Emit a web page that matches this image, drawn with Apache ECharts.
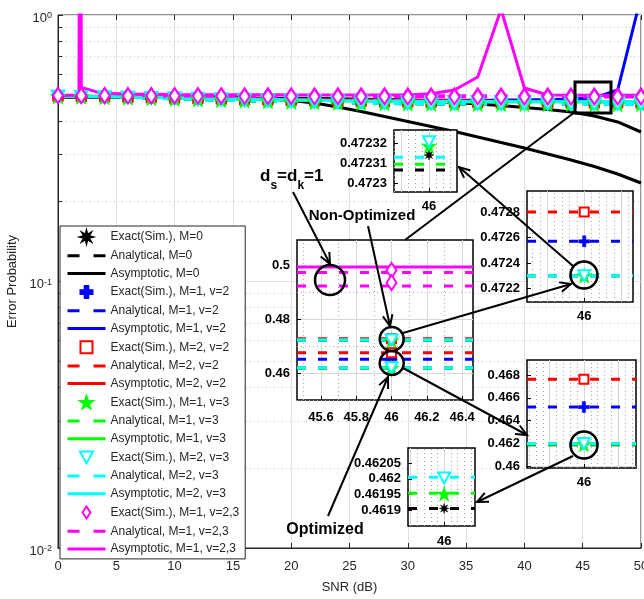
<!DOCTYPE html>
<html>
<head>
<meta charset="utf-8">
<script src="https://cdn.jsdelivr.net/npm/echarts@6/dist/echarts.min.js"></script>
<style>
html,body{margin:0;padding:0;background:#fff}
#chart{width:644px;height:599px}
</style>
</head>
<body>
<div id="chart"></div>
<script>
const FONT = '"Liberation Sans", Arial, Helvetica, sans-serif';

// ---- SNR grid (dB) of the simulated / analytical curves ----
const snr = [0,2,4,6,8,10,12,14,16,18,20,22,24,26,28,30,32,34,36,38,40,42,44,46,48,50];

// Error probability, non-optimized (NO) and optimized (OP) parameter sets
const m0NO   = [0.4962,0.4951,0.4938,0.4923,0.4906,0.4888,0.4869,0.4850,0.4831,0.4813,0.4797,0.4782,0.4769,0.4758,0.4749,0.4742,0.4736,0.4731,0.4728,0.4726,0.47247,0.47239,0.47235,0.47233,0.47231,0.4723];
const m0OP   = [0.4955,0.4938,0.4918,0.4896,0.4871,0.4845,0.4818,0.4791,0.4765,0.4741,0.4719,0.4699,0.4682,0.4668,0.4656,0.4646,0.4638,0.4632,0.4627,0.4624,0.4622,0.46205,0.46196,0.4619,0.46188,0.46186];
const m1v2NO = [0.4966,0.4955,0.4943,0.4929,0.4913,0.4896,0.4878,0.4860,0.4843,0.4826,0.4811,0.4797,0.4785,0.4775,0.4766,0.4759,0.4753,0.4747,0.4742,0.4737,0.4733,0.4730,0.4728,0.47257,0.4724,0.4723];
const m1v2OP = [0.4960,0.4945,0.4927,0.4907,0.4885,0.4862,0.4838,0.4815,0.4793,0.4773,0.4755,0.4739,0.4725,0.4713,0.4703,0.4694,0.4686,0.4679,0.4672,0.4666,0.4661,0.4657,0.4655,0.4654,0.4653,0.4652];
const m2v2NO = [0.4970,0.4960,0.4949,0.4936,0.4921,0.4905,0.4889,0.4873,0.4857,0.4842,0.4828,0.4815,0.4803,0.4793,0.4784,0.4776,0.4769,0.4762,0.4756,0.4750,0.4744,0.4738,0.4733,0.4728,0.4724,0.4721];
const m2v2OP = [0.4964,0.4950,0.4934,0.4916,0.4896,0.4875,0.4853,0.4831,0.4810,0.4791,0.4774,0.4759,0.4746,0.4735,0.4725,0.4716,0.4708,0.4701,0.4695,0.4689,0.4684,0.4680,0.4678,0.4676,0.4674,0.4672];
const m1v3NO = [0.4961,0.4950,0.4937,0.4922,0.4905,0.4887,0.4868,0.4849,0.4830,0.4812,0.4796,0.4781,0.4768,0.4757,0.4748,0.4741,0.4735,0.4731,0.4728,0.4726,0.47248,0.4724,0.47235,0.47231,0.4723,0.4723];
const m1v3OP = [0.4954,0.4937,0.4917,0.4895,0.4870,0.4844,0.4817,0.4790,0.4764,0.4740,0.4718,0.4698,0.4681,0.4667,0.4655,0.4645,0.4637,0.4631,0.4627,0.4624,0.46222,0.4621,0.46201,0.46195,0.46192,0.4619];
const m2v3NO = [0.4963,0.4952,0.4939,0.4924,0.4907,0.4889,0.4870,0.4851,0.4832,0.4814,0.4798,0.4783,0.4770,0.4759,0.4750,0.4742,0.4736,0.4732,0.4729,0.4727,0.4725,0.4724,0.47236,0.47232,0.4723,0.4723];
const m2v3OP = [0.4956,0.4939,0.4919,0.4897,0.4872,0.4846,0.4819,0.4792,0.4766,0.4742,0.4720,0.4700,0.4683,0.4669,0.4657,0.4647,0.4639,0.4633,0.4628,0.4625,0.4623,0.46212,0.46205,0.462,0.46198,0.46196];
const m1v23NO = [0.4990,0.4989,0.4988,0.4987,0.4986,0.4985,0.4984,0.4983,0.4982,0.4981,0.4980,0.4979,0.4979,0.4978,0.4978,0.4977,0.4977,0.4976,0.4976,0.4976,0.4975,0.4975,0.4975,0.4975,0.4975,0.4975];
const m1v23OP = [0.4985,0.4982,0.4979,0.4975,0.4971,0.4967,0.4962,0.4958,0.4954,0.4950,0.4946,0.4943,0.4940,0.4937,0.4935,0.4933,0.4931,0.4930,0.4929,0.4928,0.4927,0.4926,0.4926,0.4925,0.4925,0.4925];

// Asymptotic curves
const asymM0a  = [0.4925,0.4925,0.4920,0.4915,0.4910,0.4903,0.4897,0.4890,0.4883,0.4875,0.4866,0.4856,0.4845,0.4832,0.4819,0.4799,0.4757,0.4696,0.4635,0.4576,0.4497,0.4420,0.4326,0.4178,0.3968,0.3639];
const asymM0b  = [0.4925,0.4923,0.4920,0.4916,0.4911,0.4904,0.4895,0.4884,0.4866,0.4840,0.4777,0.4675,0.4516,0.4345,0.4160,0.3985,0.3817,0.3655,0.3484,0.3323,0.3170,0.3009,0.2858,0.2701,0.2532,0.2342];
const asymM1v2 = [0.4966,0.4957,0.4946,0.4934,0.4921,0.4907,0.4892,0.4877,0.4862,0.4848,0.4835,0.4823,0.4812,0.4803,0.4796,0.4791,0.4788,0.4787,0.4789,0.4794,0.4803,0.4818,0.4842,0.4880,0.523,1.17];
const asymM1v23Snr = [0,1.8,1.9,2.0,3.6,6,10,14,18,22,26,30,32,34,36,38,40,42,46,50];
const asymM1v23    = [0.500,0.500,60,0.535,0.510,0.505,0.503,0.502,0.502,0.501,0.501,0.501,0.506,0.523,0.585,1.05,0.532,0.501,0.4995,0.4995];

// ---- Zoomed views around SNR = 46 dB ----
const zoomSnr = 46;
// order: M=0, M=1 v=2, M=2 v=2, M=1 v=3, M=2 v=3
const bigNO = [0.4723, 0.47257, 0.4728, 0.47231, 0.47232];
const bigOP = [0.4619, 0.4652, 0.4676, 0.46195, 0.462];
const bigDsLines = [0.4975, 0.4925];   // analytical, M=1 v=2,3 (d_s=d_k=1)
const bigDsSim   = [0.4983, 0.4937];   // exact, M=1 v=2,3
const bigDsAsym  = [0.4995];
const midNO = [0.4723, 0.47257, 0.4728, 0.4723, 0.4723];
const lowOP = [0.4619, 0.4652, 0.46763, 0.46195, 0.462];
// order: M=0, M=1 v=3, M=2 v=3
const topLines = [0.4723067, 0.4723096, 0.472313];
const topSim   = [0.4723141, 0.4723186, 0.4723207];
const botLines = [0.461905, 0.461954, 0.462005];
const botSim   = [0.461905, 0.461952, 0.462003];

// tick labels of the zoomed views
const bigXTicks = [45.6, 45.8, 46, 46.2, 46.4];
const bigYTicks = [0.46, 0.48, 0.5];
const topYTicks = [0.4723, 0.47231, 0.47232];
const midYTicks = [0.4722, 0.4724, 0.4726, 0.4728];
const lowYTicks = [0.46, 0.462, 0.464, 0.466, 0.468];
const botYTicks = [0.4619, 0.46195, 0.462, 0.46205];
const smallXTicks = [46];

// main axis minor grid values (log decades)
const mainMinorY = [0.02,0.03,0.04,0.05,0.06,0.07,0.08,0.09,0.2,0.3,0.4,0.5,0.6,0.7,0.8,0.9];

// ---- marker shapes ----
function starPath(n, rOut, rIn) {
  const pts = [];
  for (let k = 0; k < 2 * n; k++) {
    const r = k % 2 ? rIn : rOut;
    const a = -Math.PI / 2 + k * Math.PI / n;
    pts.push((r * Math.cos(a)).toFixed(2) + ',' + (r * Math.sin(a)).toFixed(2));
  }
  return 'path://M' + pts.join('L') + 'Z';
}
const SYM_STAR = starPath(5, 10, 3.9);
const SYM_AST = starPath(8, 10, 4.2);
const SYM_PLUS = 'path://M3.5,0H6.5V3.5H10V6.5H6.5V10H3.5V6.5H0V3.5H3.5Z';
const SYM_SQUARE = 'emptyPath://M0,0H10V10H0Z';
const SYM_TRI_DOWN = 'emptyPath://M0,0H12L6,11Z';
const SYM_DIAMOND = 'emptyPath://M5,0L10,7.5L5,15L0,7.5Z';

const cfg = [
  {label: 'M=0',        color: '#000000', symbol: SYM_AST,      size: 10,       bw: 0.5},
  {label: 'M=1, v=2',   color: '#0000ff', symbol: SYM_PLUS,     size: 11,       bw: 0.5},
  {label: 'M=2, v=2',   color: '#ff0000', symbol: SYM_SQUARE,   size: 9,        bw: 2},
  {label: 'M=1, v=3',   color: '#00ff00', symbol: SYM_STAR,     size: 15,       bw: 0.5},
  {label: 'M=2, v=3',   color: '#00ffff', symbol: SYM_TRI_DOWN, size: [12, 11], bw: 2},
  {label: 'M=1, v=2,3', color: '#ff00ff', symbol: SYM_DIAMOND,  size: [10, 15], bw: 2}
];
const DASH = [9, 12];
const exactName = c => 'Exact(Sim.), ' + c.label;
const anaName = c => 'Analytical, ' + c.label;
const asymName = c => 'Asymptotic, ' + c.label;

const pairs = (xs, ys) => xs.map((x, i) => [x, ys[i]]);

let uid = 0;
function lineSeries(name, grid, data, color, dashed, z) {
  return {
    id: 'l' + (uid++), type: 'line', name: name, xAxisIndex: grid, yAxisIndex: grid, data: data,
    symbol: 'none', showSymbol: false, silent: true, z: z, clip: true,
    lineStyle: {color: color, width: 3, type: dashed ? DASH : 'solid'},
    itemStyle: {color: color}, emphasis: {disabled: true}
  };
}
function markSeries(name, grid, data, c, z) {
  return {
    id: 'm' + (uid++), type: 'scatter', name: name, xAxisIndex: grid, yAxisIndex: grid, data: data,
    symbol: c.symbol, symbolSize: c.size, silent: true, z: z,
    itemStyle: {color: c.color, borderColor: c.color, borderWidth: c.bw, opacity: 1},
    emphasis: {disabled: true}
  };
}

// ---- main plot series ----
const sets = [
  [m0NO, m0OP], [m1v2NO, m1v2OP], [m2v2NO, m2v2OP],
  [m1v3NO, m1v3OP], [m2v3NO, m2v3OP], [m1v23NO, m1v23OP]
];
const asymSets = [
  [pairs(snr, asymM0a), pairs(snr, asymM0b)],
  [pairs(snr, asymM1v2)],
  [pairs(snr, m2v2NO)],
  [pairs(snr, m1v3NO)],
  [pairs(snr, m2v3NO)],
  [pairs(asymM1v23Snr, asymM1v23)]
];

const series = [];
const legendData = [];

// minor grid of the main log axis
series.push({
  type: 'line', xAxisIndex: 0, yAxisIndex: 0, data: [], silent: true,
  markLine: {
    silent: true, symbol: ['none', 'none'], label: {show: false}, animation: false, z: 1,
    emphasis: {disabled: true},
    data: mainMinorY.map(v => ({yAxis: v, lineStyle: {color: '#c4c4c4', width: 1, type: [1, 3]}}))
      .concat(mainMinorY.map(v => [
        {coord: [0, v], lineStyle: {color: '#262626', width: 1, type: 'solid'}},
        {coord: [0.35, v]}
      ]))
  }
});

const hideSymbol = {opacity: 0};
cfg.forEach((c, i) => {
  legendData.push({name: exactName(c)});
  legendData.push({name: anaName(c), lineStyle: {type: [12, 14], width: 3}, itemStyle: hideSymbol});
  legendData.push({name: asymName(c), lineStyle: {width: 3}, itemStyle: hideSymbol});
  sets[i].forEach(arr => series.push(lineSeries(anaName(c), 0, pairs(snr, arr), c.color, true, 2)));
  asymSets[i].forEach(d => series.push(lineSeries(asymName(c), 0, d, c.color, false, 2)));
  sets[i].forEach(arr => series.push(markSeries(exactName(c), 0, pairs(snr, arr), c, 3)));
});

// ---- zoomed views ----
function steps(a, b, d) {
  const out = [];
  const n = Math.round((b - a) / d);
  for (let k = 0; k <= n; k++) out.push(+(a + k * d).toFixed(9));
  return out;
}
function minus(list, major) {
  const m = major.map(v => +v.toFixed(9));
  return list.filter(v => m.indexOf(v) < 0);
}

const insets = [
  {box: [297, 240, 176, 160], x: [45.464, 46.462], y: [0.45, 0.5096], xl: bigXTicks, yl: bigYTicks,
   xMaj: bigXTicks, xMin: minus(steps(45.5, 46.4, 0.1), bigXTicks),
   yMaj: bigYTicks, yMin: minus(steps(0.45, 0.505, 0.005), bigYTicks), xm: 11},
  {box: [394, 130, 63, 62], x: [45.95, 46.04], y: [0.4722958, 0.4723265], xl: smallXTicks, yl: topYTicks,
   xMaj: [45.96, 46], xMin: minus(steps(45.95, 46.03, 0.01), [45.96, 46]),
   yMaj: topYTicks, yMin: minus(steps(0.472296, 0.472326, 0.000002), topYTicks), xm: 8},
  {box: [527, 191, 106, 111], x: [45.9226, 46.066], y: [0.472093, 0.472966], xl: smallXTicks, yl: midYTicks,
   xMaj: [45.95, 46, 46.05], xMin: minus(steps(45.93, 46.06, 0.01), [45.95, 46, 46.05]),
   yMaj: midYTicks, yMin: minus(steps(0.47212, 0.47296, 0.00004), midYTicks), xm: 8},
  {box: [527, 360, 109, 108], x: [45.917, 46.076], y: [0.45986, 0.46932], xl: smallXTicks, yl: lowYTicks,
   xMaj: [45.95, 46, 46.05], xMin: minus(steps(45.92, 46.07, 0.01), [45.95, 46, 46.05]),
   yMaj: lowYTicks, yMin: minus(steps(0.46, 0.4692, 0.0004), lowYTicks), xm: 8},
  {box: [408, 448, 67, 78], x: [45.946, 46.046], y: [0.4618486, 0.4620994], xl: smallXTicks, yl: botYTicks,
   xMaj: [45.95, 46], xMin: minus(steps(45.96, 46.04, 0.01), [46]),
   yMaj: botYTicks, yMin: minus(steps(0.46185, 0.46209, 0.00001), botYTicks), xm: 9}
];

const grids = [{
  left: 58, top: 15, right: 3, bottom: 51, show: true, borderColor: '#262626', borderWidth: 1,
  backgroundColor: 'transparent', outerBoundsMode: 'none', containLabel: false, z: 0
}];
const xAxes = [{
  type: 'value', gridIndex: 0, min: 0, max: 50, interval: 5, z: 0,
  name: 'SNR (dB)', nameLocation: 'middle', nameGap: 33,
  nameTextStyle: {fontSize: 13, fontFamily: FONT, color: '#262626'},
  axisLine: {show: true, lineStyle: {color: '#262626', width: 1}},
  axisTick: {show: true, inside: true, length: 5, lineStyle: {color: '#262626'}},
  axisLabel: {fontSize: 13, fontFamily: FONT, color: '#262626', margin: 12},
  splitLine: {show: true, lineStyle: {color: '#e2e2e2', width: 1}}
}];
const yAxes = [{
  type: 'log', logBase: 10, gridIndex: 0, min: 0.01, max: 1, z: 0,
  name: 'Error Probability', nameLocation: 'middle', nameGap: 36,
  nameTextStyle: {fontSize: 13, fontFamily: FONT, color: '#262626'},
  axisLine: {show: true, lineStyle: {color: '#262626', width: 1}},
  axisTick: {show: true, inside: true, length: 5, lineStyle: {color: '#262626'}},
  axisLabel: {
    margin: 6,
    formatter: v => '{b|10}{e|' + Math.round(Math.log10(v)) + '}',
    rich: {
      b: {fontSize: 13, fontFamily: FONT, color: '#262626', lineHeight: 13, verticalAlign: 'bottom'},
      e: {fontSize: 9, fontFamily: FONT, color: '#262626', lineHeight: 9, verticalAlign: 'top', padding: [0, 0, 10, 0]}
    },
    padding: [6, 0, 0, 0]
  },
  splitLine: {show: true, lineStyle: {color: '#e2e2e2', width: 1}}
}];

const insetLabel = {fontSize: 13, fontWeight: 'bold', fontFamily: FONT, color: '#000'};
insets.forEach((ins, k) => {
  const gi = k + 1;
  grids.push({
    left: ins.box[0], top: ins.box[1], width: ins.box[2], height: ins.box[3],
    show: true, backgroundColor: '#ffffff', borderColor: '#000', borderWidth: 1.5,
    outerBoundsMode: 'none', containLabel: false, z: 5
  });
  xAxes.push({
    type: 'value', gridIndex: gi, min: ins.x[0], max: ins.x[1], z: 7,
    axisLine: {show: false}, splitLine: {show: false},
    axisTick: {show: true, inside: true, length: 4, customValues: ins.xl, lineStyle: {color: '#000'}},
    axisLabel: Object.assign({customValues: ins.xl, margin: ins.xm}, insetLabel)
  });
  yAxes.push({
    type: 'value', gridIndex: gi, min: ins.y[0], max: ins.y[1], z: 7,
    axisLine: {show: false}, splitLine: {show: false},
    axisTick: {show: true, inside: true, length: 4, customValues: ins.yl, lineStyle: {color: '#000'}},
    axisLabel: Object.assign({customValues: ins.yl, margin: 7}, insetLabel)
  });
  const maj = {color: '#d6d6d6', width: 1, type: 'solid'};
  const mnr = {color: '#a9a9a9', width: 1, type: [1, 3]};
  series.push({
    type: 'line', xAxisIndex: gi, yAxisIndex: gi, data: [], silent: true,
    markLine: {
      silent: true, symbol: ['none', 'none'], label: {show: false}, animation: false, z: 6,
      emphasis: {disabled: true},
      data: [].concat(
        ins.xMin.map(v => ({xAxis: v, lineStyle: mnr})),
        ins.yMin.map(v => ({yAxis: v, lineStyle: mnr})),
        ins.xMaj.map(v => ({xAxis: v, lineStyle: maj})),
        ins.yMaj.map(v => ({yAxis: v, lineStyle: maj}))
      )
    }
  });
});

// tick marks along the top edge of the main plot (added last so indices above stay aligned)
xAxes.push({
  type: 'value', gridIndex: 0, min: 0, max: 50, interval: 5, position: 'top', z: 0,
  axisLine: {show: false}, axisLabel: {show: false}, splitLine: {show: false},
  axisTick: {show: true, inside: true, length: 5, lineStyle: {color: '#262626'}}
});

// contents of each zoomed view
const flat = (ins, v) => [[ins.x[0], v], [ins.x[1], v]];
function addInset(gi, idx, lines, sims) {
  const ins = insets[gi - 1];
  idx.forEach((ci, j) => series.push(lineSeries(anaName(cfg[ci]), gi, flat(ins, lines[j]), cfg[ci].color, true, 8)));
  idx.forEach((ci, j) => series.push(markSeries(exactName(cfg[ci]), gi, [[zoomSnr, sims[j]]], cfg[ci], 9)));
}
// big view: both parameter sets plus the d_s = d_k = 1 curves
[bigNO, bigOP].forEach(arr => addInset(1, [0, 1, 2, 3, 4], arr, arr));
series.push(lineSeries(asymName(cfg[5]), 1, flat(insets[0], bigDsAsym[0]), cfg[5].color, false, 8));
bigDsLines.forEach(v => series.push(lineSeries(anaName(cfg[5]), 1, flat(insets[0], v), cfg[5].color, true, 8)));
bigDsSim.forEach(v => series.push(markSeries(exactName(cfg[5]), 1, [[zoomSnr, v]], cfg[5], 9)));
addInset(2, [0, 3, 4], topLines, topSim);
addInset(3, [0, 1, 2, 3, 4], midNO, midNO);
addInset(4, [0, 1, 2, 3, 4], lowOP, lowOP);
addInset(5, [0, 3, 4], botLines, botSim);

// ---- annotations: arrows, circles, zoom box, labels ----
function arrow(x1, y1, x2, y2, head) {
  const els = [{type: 'line', shape: {x1: x1, y1: y1, x2: x2, y2: y2}, style: {stroke: '#000', lineWidth: 2}}];
  if (head) {
    const a = Math.atan2(y2 - y1, x2 - x1), L = 12, w = 0.42;
    els.push({type: 'polyline', shape: {points: [
      [x2 - L * Math.cos(a - w), y2 - L * Math.sin(a - w)], [x2, y2],
      [x2 - L * Math.cos(a + w), y2 - L * Math.sin(a + w)]]},
      style: {stroke: '#000', lineWidth: 2, fill: 'none'}});
  }
  return els;
}
const ring = (cx, cy, r) => ({type: 'circle', shape: {cx: cx, cy: cy, r: r}, style: {stroke: '#000', lineWidth: 2.5, fill: 'none'}});
const txt = (x, y, s, size, align) => ({type: 'text', x: x, y: y,
  style: {text: s, font: 'bold ' + size + 'px ' + FONT, fill: '#000', align: align || 'left', verticalAlign: 'middle'}});

const graphics = [].concat(
  [{type: 'rect', shape: {x: 575, y: 82, width: 36, height: 31}, style: {stroke: '#000', lineWidth: 3, fill: 'none'}}],
  arrow(575, 112, 405, 240, false),
  arrow(293, 192, 330, 264, true),
  arrow(368, 226, 390, 326, true),
  arrow(328, 516, 388, 377, true),
  arrow(403, 333, 571, 284, true),
  arrow(573, 266, 459, 167, true),
  arrow(403, 368, 527, 435, true),
  arrow(573, 456, 477, 502, true),
  [ring(330, 280, 15), ring(391.7, 339, 12), ring(391.7, 363, 12), ring(584, 275, 13.5), ring(584, 445, 13.5)],
  [txt(260, 176, 'd', 17), txt(270.4, 186, 's', 12), txt(277.1, 176, '=d', 17), txt(297.4, 186, 'k', 12), txt(304.1, 176, '=1', 17)],
  [txt(362, 216, 'Non-Optimized', 15, 'center'), txt(325, 530, 'Optimized', 16, 'center')]
).map(e => Object.assign({z: 20, silent: true}, e));

const option = {
  animation: false,
  backgroundColor: '#ffffff',
  textStyle: {fontFamily: FONT},
  grid: grids,
  xAxis: xAxes,
  yAxis: yAxes,
  legend: {
    data: legendData, orient: 'vertical', left: 60, top: 226,
    itemWidth: 38, itemHeight: 12, itemGap: 5.7, padding: [4, 6, 4, 6],
    symbolKeepAspect: true,
    backgroundColor: '#ffffff', borderColor: '#262626', borderWidth: 1, borderRadius: 0,
    textStyle: {fontSize: 12, fontFamily: FONT, color: '#262626'},
    selectedMode: false, z: 6
  },
  series: series,
  graphic: {elements: graphics}
};

const chart = echarts.init(document.getElementById('chart'), null, {renderer: 'canvas'});
chart.setOption(option);
</script>
</body>
</html>
